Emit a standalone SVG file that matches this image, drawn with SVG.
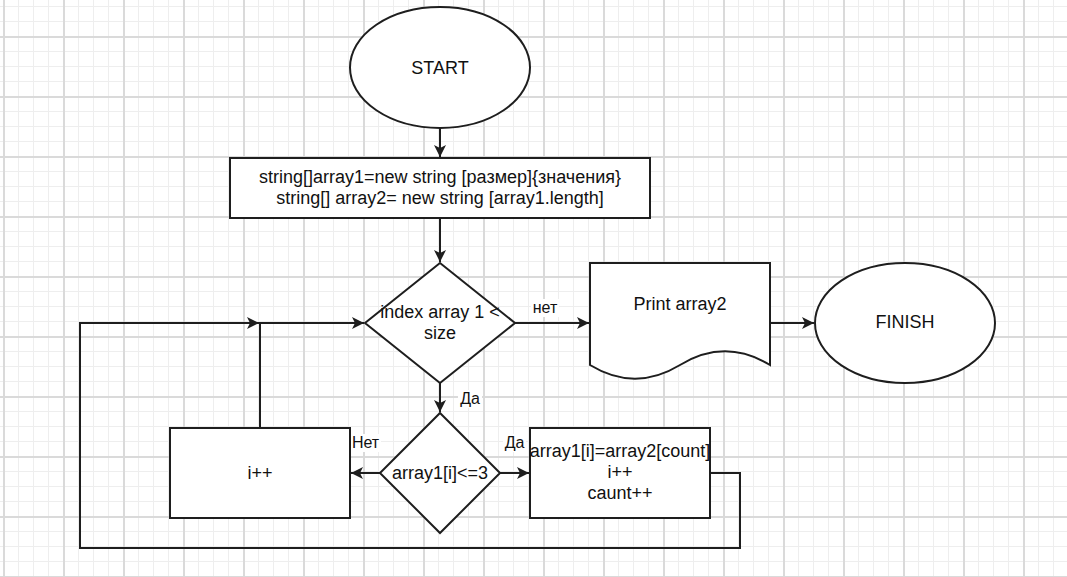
<svg xmlns="http://www.w3.org/2000/svg" width="1067" height="577" viewBox="0 0 1067 577">
<style>
.shape{fill:#fff;stroke:#1e1e1e;stroke-width:2}
.edge{fill:none;stroke:#1e1e1e;stroke-width:2}
text{font-family:"Liberation Sans",Arial,sans-serif;font-size:18px;fill:#111;text-anchor:middle}
.lbl{font-size:16px}
.lblbg{fill:#fff;stroke:none}
</style>
<defs>
<pattern id="grid" x="3" y="36" width="60" height="60" patternUnits="userSpaceOnUse">
<rect x="0" y="15" width="60" height="1" fill="#eeeeee"/>
<rect x="0" y="30" width="60" height="1" fill="#eeeeee"/>
<rect x="0" y="45" width="60" height="1" fill="#eeeeee"/>
<rect x="15" y="0" width="1" height="60" fill="#eeeeee"/>
<rect x="30" y="0" width="1" height="60" fill="#eeeeee"/>
<rect x="45" y="0" width="1" height="60" fill="#eeeeee"/>
<rect x="0" y="0" width="60" height="2" fill="#dadada"/>
<rect x="0" y="0" width="2" height="60" fill="#dadada"/>
</pattern>
<marker id="arr" markerUnits="userSpaceOnUse" markerWidth="14" markerHeight="14" viewBox="-13 -7 14 14" refX="0" refY="0" orient="auto">
<path d="M0,0 L-12,-6 L-9,0 L-12,6 Z" fill="#1e1e1e"/>
</marker>
</defs>
<rect width="1067" height="577" fill="#fff"/>
<rect width="1067" height="577" fill="url(#grid)"/>

<g id="connectors">
<path class="edge" d="M440,128 L440,157" marker-end="url(#arr)"/>
<path class="edge" d="M440,218 L440,262" marker-end="url(#arr)"/>
<path class="edge" d="M515,323 L589,323" marker-end="url(#arr)"/>
<path class="edge" d="M770,323 L814,323" marker-end="url(#arr)"/>
<path class="edge" d="M440,383 L440,412" marker-end="url(#arr)"/>
<path class="edge" d="M380,473 L351,473" marker-end="url(#arr)"/>
<path class="edge" d="M500,473 L529,473" marker-end="url(#arr)"/>
<path class="edge" d="M710,473 L740,473 L740,548 L80,548 L80,323 L259,323" marker-end="url(#arr)"/>
<path class="edge" d="M260,428 L260,323 L364,323" marker-end="url(#arr)"/>
<rect class="lblbg" x="531" y="299" width="28" height="18"/>
<text class="lbl" x="545" y="313">нет</text>
<rect class="lblbg" x="458" y="390" width="24" height="18"/>
<text class="lbl" x="470" y="404">Да</text>
<rect class="lblbg" x="350" y="434" width="31" height="18"/>
<text class="lbl" x="365.5" y="448">Нет</text>
<rect class="lblbg" x="503" y="434" width="23" height="18"/>
<text class="lbl" x="514.5" y="448">Да</text>
</g>

<g id="start">
<ellipse class="shape" cx="440" cy="67.5" rx="90" ry="60.5"/>
<text x="440" y="73.5">START</text>
</g>

<g id="init">
<rect class="shape" x="230" y="158" width="420" height="60"/>
<text x="440" y="183">string[]array1=new string [размер]{значения}</text>
<text x="440" y="204">string[] array2= new string [array1.length]</text>
</g>

<g id="cond1">
<path class="shape" d="M440,263 L515,323 L440,383 L365,323 Z"/>
<text x="440" y="318">index array 1 &lt;</text>
<text x="440" y="339">size</text>
</g>

<g id="print">
<path class="shape" d="M590,263 L770,263 L770,365 Q725,337.6 680,365 Q635,392.4 590,365 Z"/>
<text x="680" y="310">Print array2</text>
</g>

<g id="finish">
<ellipse class="shape" cx="905" cy="323" rx="90" ry="60"/>
<text x="905" y="328">FINISH</text>
</g>

<g id="cond2">
<path class="shape" d="M440,413 L500,473 L440,533 L380,473 Z"/>
<text x="440" y="479">array1[i]&lt;=3</text>
</g>

<g id="inc">
<rect class="shape" x="170" y="428" width="180" height="90"/>
<text x="260" y="479">i++</text>
</g>

<g id="assign">
<rect class="shape" x="530" y="428" width="180" height="90"/>
<text x="620" y="457">array1[i]=array2[count]</text>
<text x="620" y="478">i++</text>
<text x="620" y="499">caunt++</text>
</g>
</svg>
